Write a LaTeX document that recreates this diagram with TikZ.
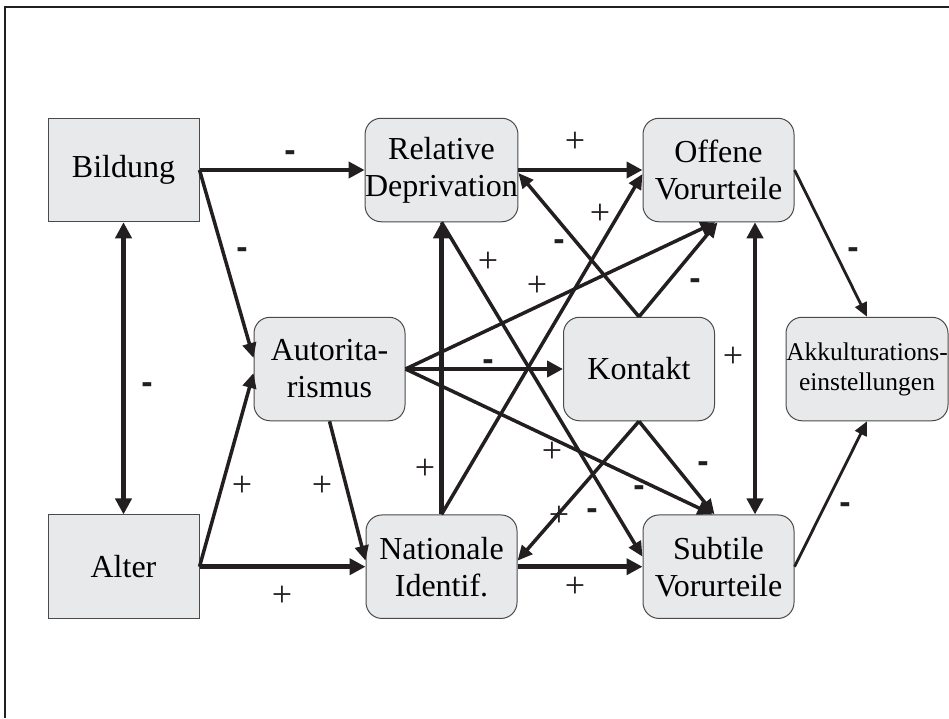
\documentclass[tikz,border=0pt]{standalone}
\usepackage{fontspec}
\setmainfont{Liberation Serif}
\newfontfamily\dashfamily{Liberation Sans}
\usetikzlibrary{arrows.meta,calc}
\definecolor{boxfill}{HTML}{E8E9EB}
\definecolor{boxline}{HTML}{4A4A4A}
\definecolor{ink}{HTML}{231F20}
\begin{document}
\begin{tikzpicture}[x=1pt,y=-1pt,
  box/.style={draw=boxline, fill=boxfill, line width=1pt,
    minimum width=151pt, minimum height=103.5pt, inner sep=0pt,
    align=center, font=\fontsize{32}{37}\selectfont},
  rbox/.style={box, rounded corners=16pt},
  heavyarrow/.style={draw=ink, line width=4.5pt, -{Triangle[length=16pt,width=16pt]}},
  heavyboth/.style={draw=ink, line width=4.5pt, {Triangle[length=16pt,width=16pt]}-{Triangle[length=16pt,width=16pt]}},
  midarrow/.style={draw=ink, line width=3.5pt, -{Triangle[length=15pt,width=13.5pt]}},
  thinarrow/.style={draw=ink, line width=2.8pt, -{Triangle[length=14pt,width=12.5pt]}},
  pluslab/.style={font=\fontsize{36}{36}\selectfont, text=ink, anchor=base, inner sep=0pt},
  minuslab/.style={font=\dashfamily\bfseries\fontsize{34}{34}\selectfont, text=ink, anchor=base, inner sep=0pt}
]
\useasboundingbox (0,0) rectangle (949,718);

% outer frame (open towards right and bottom)
\draw[ink, line width=2pt] (4.8,718) -- (4.8,6.8) -- (949,6.8);

% variables
\node[box]  (bild)  at (123.5,170)   {Bildung};
\node[box]  (alter) at (123.5,566.7) {Alter};
\node[rbox] (rd)    at (441.5,170)   {Relative\\Deprivation};
\node[rbox] (aut)   at (329.5,369)   {Autorita-\\rismus};
\node[rbox] (kon)   at (639,369)     {Kontakt};
\node[rbox] (nat)   at (441.5,566.7) {Nationale\\Identif.};
\node[rbox] (off)   at (718.5,170)   {Offene\\Vorurteile};
\node[rbox] (sub)   at (718.5,566.7) {Subtile\\Vorurteile};
\node[rbox, minimum width=162pt, font=\fontsize{25.5}{30}\selectfont] (akk) at (867,369) {Akkulturations-\\einstellungen};

% horizontal and vertical paths
\draw[heavyarrow] (bild.east) -- (rd.west);
\draw[heavyarrow] (alter.east) -- (nat.west);
\draw[heavyarrow] (rd.east) -- (off.west);
\draw[heavyarrow] (nat.east) -- (sub.west);
\draw[heavyarrow] (aut.east) -- (kon.west);
\draw[heavyboth] (bild.south) -- (alter.north);
\draw[heavyarrow] (nat.north) -- (rd.south);
\draw[heavyboth] ([xshift=36.5pt]off.south) -- ([xshift=36.5pt]sub.north);

% diagonal paths
\draw[midarrow] (bild.east) -- ([yshift=11pt]aut.west);
\draw[midarrow] (alter.east) -- ([yshift=-4pt]aut.west);
\draw[midarrow] (aut.south) -- ([yshift=6pt]nat.west);
\draw[midarrow] (aut.east) -- ([xshift=-3pt]off.south);
\draw[midarrow] (aut.east) -- ([xshift=-6pt]sub.north);
\draw[midarrow] (rd.south) -- ([yshift=10pt]sub.west);
\draw[midarrow] (nat.north) -- ([yshift=-4pt]off.west);
\draw[midarrow] (kon.north) -- ([yshift=-3pt]rd.east);
\draw[midarrow] (kon.north) -- ([xshift=-1pt]off.south);
\draw[midarrow] (kon.south) -- ([yshift=6pt]nat.east);
\draw[midarrow] (kon.south) -- ([xshift=-4pt]sub.north);
\draw[thinarrow] (off.east) -- (akk.north);
\draw[thinarrow] (sub.east) -- (akk.south);

% signs of the effects
\node[minuslab] (s1)  at (290,161) {-};
\node[minuslab] (s2)  at (242,258) {-};
\node[minuslab] (s3)  at (147,393) {-};
\node[pluslab]  (s4)  at (242,496) {+};
\node[pluslab]  (s5)  at (322,496) {+};
\node[pluslab]  (s6)  at (282,606) {+};
\node[pluslab]  (s7)  at (575,152) {+};
\node[pluslab]  (s8)  at (600,224) {+};
\node[minuslab] (s9)  at (559,250) {-};
\node[pluslab]  (s10) at (488,272) {+};
\node[pluslab]  (s11) at (537,296) {+};
\node[minuslab] (s12) at (695,289) {-};
\node[minuslab] (s13) at (488,370) {-};
\node[pluslab]  (s14) at (425,479) {+};
\node[pluslab]  (s15) at (552,462) {+};
\node[pluslab]  (s16) at (559,526) {+};
\node[minuslab] (s17) at (592,519) {-};
\node[minuslab] (s18) at (639,496) {-};
\node[minuslab] (s19) at (703,472) {-};
\node[pluslab]  (s20) at (575,597) {+};
\node[pluslab]  (s21) at (733,367) {+};
\node[minuslab] (s22) at (853,258) {-};
\node[minuslab] (s23) at (845,513) {-};
\end{tikzpicture}
\end{document}
